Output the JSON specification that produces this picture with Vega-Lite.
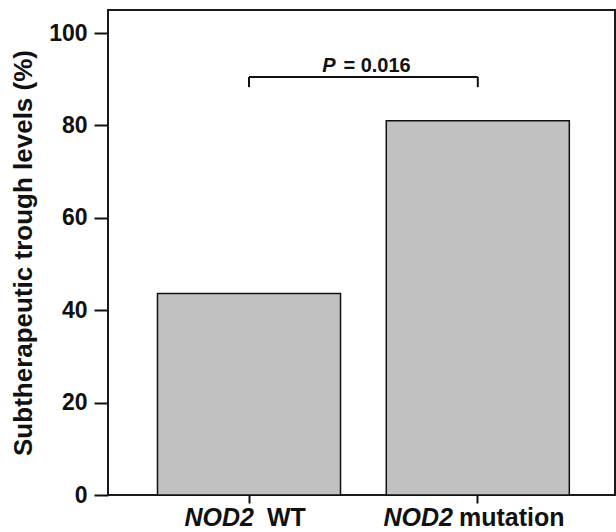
{
  "$schema": "https://vega.github.io/schema/vega-lite/v6.json",
  "width": 507,
  "height": 485,
  "autosize": {"type": "none"},
  "padding": {"left": 108, "top": 10, "right": 1, "bottom": 37},
  "background": "white",
  "config": {
    "font": "Liberation Sans",
    "view": {"stroke": "#1a1a1a", "strokeWidth": 2}
  },
  "datasets": {
    "bars": [
      {"group": "NOD2 WT", "pct": 43.6},
      {"group": "NOD2 mutation", "pct": 81.0}
    ],
    "bracket_h": [
      {"from": "NOD2 WT", "to": "NOD2 mutation", "top": 90.5}
    ],
    "bracket_v": [
      {"group": "NOD2 WT", "top": 90.5, "bottom": 88.3},
      {"group": "NOD2 mutation", "top": 90.5, "bottom": 88.3}
    ],
    "xlab": [
      {"group": "NOD2 WT", "gene": "NOD2", "status": "WT"},
      {"group": "NOD2 mutation", "gene": "NOD2", "status": "mutation"}
    ],
    "ptext": [
      {"group": "NOD2 WT", "sym": "P", "rest": "= 0.016"}
    ]
  },
  "layer": [
    {
      "data": {"name": "bars"},
      "mark": {"type": "bar", "fill": "#c1c1c1", "stroke": "#111111", "strokeWidth": 1.5},
      "encoding": {
        "x": {
          "field": "group", "type": "nominal", "sort": ["NOD2 WT", "NOD2 mutation"],
          "scale": {"paddingInner": 0.2, "paddingOuter": 0.208, "align": 0.52},
          "axis": {"labels": false, "title": null, "domain": false, "ticks": true, "tickSize": 8, "tickWidth": 2, "tickColor": "#111111", "grid": false}
        },
        "y": {
          "field": "pct", "type": "quantitative",
          "scale": {"domain": [0, 105], "nice": false},
          "axis": {
            "values": [0, 20, 40, 60, 80, 100],
            "title": "Subtherapeutic trough levels (%)",
            "domain": false, "grid": false,
            "tickSize": 14, "tickWidth": 2, "tickColor": "#111111",
            "labelFont": "Liberation Sans", "labelFontSize": 23, "labelFontWeight": "bold", "labelColor": "#111111",
            "labelPadding": 7, "labelFlush": false,
            "titleFont": "Liberation Sans", "titleFontSize": 26, "titleFontWeight": "bold", "titleColor": "#111111",
            "titlePadding": 12
          }
        }
      }
    },
    {
      "data": {"name": "bracket_h"},
      "mark": {"type": "rule", "stroke": "#111111", "strokeWidth": 2},
      "encoding": {
        "x": {"field": "from", "type": "nominal", "bandPosition": 0.5, "sort": ["NOD2 WT", "NOD2 mutation"]},
        "x2": {"field": "to", "bandPosition": 0.5},
        "y": {"field": "top", "type": "quantitative"}
      }
    },
    {
      "data": {"name": "bracket_v"},
      "mark": {"type": "rule", "stroke": "#111111", "strokeWidth": 2},
      "encoding": {
        "x": {"field": "group", "type": "nominal", "bandPosition": 0.5, "sort": ["NOD2 WT", "NOD2 mutation"]},
        "y": {"field": "top", "type": "quantitative"},
        "y2": {"field": "bottom"}
      }
    },
    {
      "data": {"name": "ptext"},
      "mark": {"type": "text", "fontSize": 20, "fontWeight": "bold", "fontStyle": "italic", "align": "right", "baseline": "alphabetic", "color": "#111111"},
      "encoding": {
        "x": {"field": "group", "type": "nominal", "bandPosition": 0.973, "sort": ["NOD2 WT", "NOD2 mutation"]},
        "y": {"datum": 91.6, "type": "quantitative"},
        "text": {"field": "sym"}
      }
    },
    {
      "data": {"name": "ptext"},
      "mark": {"type": "text", "fontSize": 20, "fontWeight": "bold", "align": "left", "baseline": "alphabetic", "color": "#111111"},
      "encoding": {
        "x": {"field": "group", "type": "nominal", "bandPosition": 1.016, "sort": ["NOD2 WT", "NOD2 mutation"]},
        "y": {"datum": 91.6, "type": "quantitative"},
        "text": {"field": "rest"}
      }
    },
    {
      "data": {"name": "xlab"},
      "transform": [{"filter": "datum.group == 'NOD2 WT'"}],
      "mark": {"type": "text", "fontSize": 25, "fontWeight": "bold", "fontStyle": "italic", "align": "right", "baseline": "alphabetic", "dy": 31, "color": "#111111"},
      "encoding": {
        "x": {"field": "group", "type": "nominal", "bandPosition": 0.527, "sort": ["NOD2 WT", "NOD2 mutation"]},
        "y": {"datum": 0, "type": "quantitative"},
        "text": {"field": "gene"}
      }
    },
    {
      "data": {"name": "xlab"},
      "transform": [{"filter": "datum.group == 'NOD2 WT'"}],
      "mark": {"type": "text", "fontSize": 25, "fontWeight": "bold", "align": "left", "baseline": "alphabetic", "dy": 31, "color": "#111111"},
      "encoding": {
        "x": {"field": "group", "type": "nominal", "bandPosition": 0.598, "sort": ["NOD2 WT", "NOD2 mutation"]},
        "y": {"datum": 0, "type": "quantitative"},
        "text": {"field": "status"}
      }
    },
    {
      "data": {"name": "xlab"},
      "transform": [{"filter": "datum.group == 'NOD2 mutation'"}],
      "mark": {"type": "text", "fontSize": 25, "fontWeight": "bold", "fontStyle": "italic", "align": "right", "baseline": "alphabetic", "dy": 31, "color": "#111111"},
      "encoding": {
        "x": {"field": "group", "type": "nominal", "bandPosition": 0.364, "sort": ["NOD2 WT", "NOD2 mutation"]},
        "y": {"datum": 0, "type": "quantitative"},
        "text": {"field": "gene"}
      }
    },
    {
      "data": {"name": "xlab"},
      "transform": [{"filter": "datum.group == 'NOD2 mutation'"}],
      "mark": {"type": "text", "fontSize": 25, "fontWeight": "bold", "align": "left", "baseline": "alphabetic", "dy": 31, "color": "#111111"},
      "encoding": {
        "x": {"field": "group", "type": "nominal", "bandPosition": 0.397, "sort": ["NOD2 WT", "NOD2 mutation"]},
        "y": {"datum": 0, "type": "quantitative"},
        "text": {"field": "status"}
      }
    }
  ]
}
